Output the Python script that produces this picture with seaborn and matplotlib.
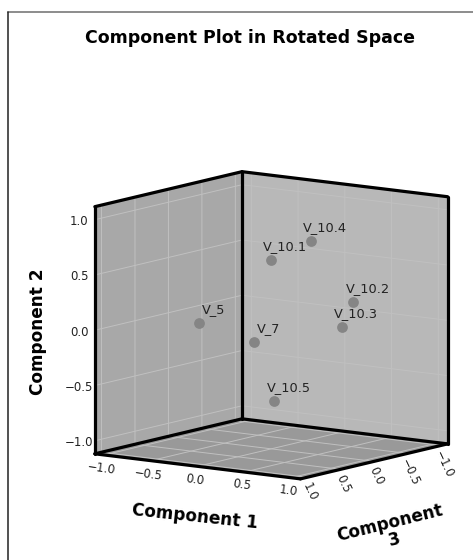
import matplotlib
matplotlib.use("Agg")
import matplotlib.pyplot as plt
from matplotlib.lines import Line2D
from mpl_toolkits.mplot3d import proj3d
import pandas as pd
import seaborn as sns

sns.set_theme(style="white")
plt.rcParams["font.family"] = ["DejaVu Sans"]

labels = ["V_5", "V_7", "V_10.1", "V_10.4", "V_10.2", "V_10.3", "V_10.5"]
comp1 = [-0.09, 0.055, 0.33, 0.66, 0.88, 0.825, 0.33]
comp2 = [0.145, -0.095, 0.69, 0.88, 0.30, 0.08, -0.59]
comp3 = [0.95, 0.34, 0.47, 0.33, 0.0, 0.10, 0.42]
tick_values = [-1.0, -0.5, 0.0, 0.5, 1.0]
tick_labels = ["\u22121.0", "\u22120.5", "0.0", "0.5", "1.0"]
df = pd.DataFrame({"label": labels, "c1": comp1, "c2": comp2, "c3": comp3})

LO, HI = -1.1, 1.1
ZLO, ZHI = -1.118, 1.118

fig = plt.figure(figsize=(4.73, 5.6), dpi=100, facecolor="white")
size = 424
ax = fig.add_axes([(265.5 - size / 2) / 473, 1 - (331 + size / 2) / 560, size / 473, size / 560],
                  projection="3d", proj_type="ortho", facecolor="none")
ax.view_init(elev=9.8, azim=-54.4)
ax.set_xlim(LO, HI, view_margin=0)
ax.set_ylim(HI, LO, view_margin=0)
ax.set_zlim(ZLO, ZHI, view_margin=0)
ax.set_box_aspect((1, 1, 0.992), zoom=1.0)

ax.xaxis.set_pane_color("#a8a8a8")
ax.yaxis.set_pane_color("#b8b8b8")
ax.zaxis.set_pane_color("#999999")
for axis in (ax.xaxis, ax.yaxis, ax.zaxis):
    axis.pane.set_edgecolor("none")
    axis.line.set_color("none")
    axis._axinfo["tick"]["inward_factor"] = 0
    axis._axinfo["tick"]["outward_factor"] = 0
    axis._axinfo["grid"]["color"] = "#c0c0c0"
    axis._axinfo["grid"]["linewidth"] = 0.7

ax.set_xticks(tick_values, tick_labels)
ax.set_yticks(tick_values, tick_labels)
ax.set_zticks(tick_values, tick_labels)
ax.tick_params(axis="x", labelrotation=-8, labelsize=8.5, pad=-5, colors="#222222")
ax.tick_params(axis="y", labelrotation=-65, labelsize=8.5, pad=-6, colors="#222222")
ax.tick_params(axis="z", labelsize=8.5, pad=-1, colors="#222222")
ax.zaxis.set_ticks_position("upper")
for t in ax.zaxis.get_major_ticks():
    t.label1.set_va("center_baseline")

# Box frame edges
edge = dict(color="black", lw=2.3, solid_capstyle="round", zorder=5)
ax.plot([LO, HI], [HI, HI], [ZLO, ZLO], **edge)
ax.plot([LO, HI], [LO, LO], [ZLO, ZLO], **edge)
ax.plot([LO, LO], [LO, HI], [ZLO, ZLO], **edge)
ax.plot([HI, HI], [LO, HI], [ZLO, ZLO], **edge)
ax.plot([LO, LO], [HI, HI], [ZLO, ZHI], **edge)
ax.plot([LO, LO], [LO, LO], [ZLO, ZHI], **edge)
ax.plot([HI, HI], [LO, LO], [ZLO, ZHI], **edge)
ax.plot([LO, LO], [LO, HI], [ZHI, ZHI], **edge)
ax.plot([LO, HI], [LO, LO], [ZHI, ZHI], **edge)

ax.scatter(df["c1"], df["c3"], df["c2"], s=60, c="#858585", depthshade=False, linewidths=0, zorder=6)
proj = ax.get_proj()
for _, row in df.iterrows():
    px, py, _z = proj3d.proj_transform(row["c1"], row["c3"], row["c2"], proj)
    ax.annotate(row["label"], (px, py), xytext=(14.5, 13.5), textcoords="offset pixels",
                fontsize=9.3, ha="center", va="center", color="#222222", zorder=7,
                annotation_clip=False)

title_kw = dict(fontweight="bold", ha="center", va="center", color="black", rotation_mode="anchor")
fig.text(250 / 473, 1 - 38 / 560, "Component Plot in Rotated Space", fontsize=12.5, **title_kw)
fig.text(195 / 473, 1 - 517 / 560, "Component 1", fontsize=12.2, rotation=-6, **title_kw)
fig.text(38 / 473, 1 - 332 / 560, "Component 2", fontsize=12.2, rotation=90, **title_kw)
fig.text(392 / 473, 1 - 531 / 560, "Component\n3", fontsize=12.2, rotation=14, linespacing=0.95, **title_kw)

fig.add_artist(Line2D([8 / 473, 1], [1 - 12 / 560] * 2, color="#8c8c8c", lw=1.4, transform=fig.transFigure))
fig.add_artist(Line2D([8 / 473, 8 / 473], [0, 1 - 12 / 560], color="#222222", lw=1.1, transform=fig.transFigure))
fig.savefig("out.png", dpi=100)
